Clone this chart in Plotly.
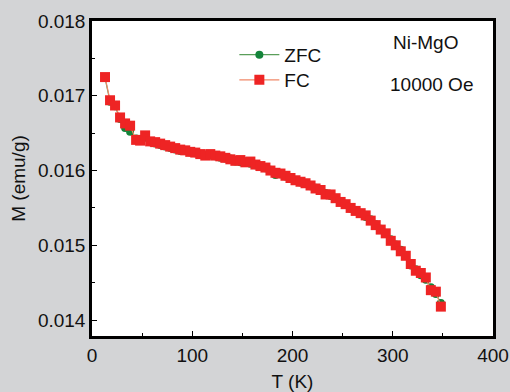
import plotly.graph_objects as go

T_fc = [13, 18, 23, 28, 33, 38, 44, 48, 53, 58, 63, 68, 73, 78, 83, 88, 93, 98, 103, 108,
        113, 118, 123, 128, 133, 138, 143, 148, 153, 158, 163, 168, 173, 178, 183, 188, 193,
        198, 203, 208, 213, 218, 223, 228, 233, 238, 243, 248, 253, 258, 263, 268, 273, 278,
        283, 288, 293, 298, 303, 308, 313, 318, 323, 328, 333, 338, 343, 348]
M_fc = [0.01725, 0.01694, 0.01687, 0.01671, 0.01663, 0.01660, 0.01641, 0.01640, 0.01647, 0.01639,
        0.01638, 0.01636, 0.01634, 0.01632, 0.01630, 0.01628, 0.01627, 0.01625, 0.01624, 0.01622,
        0.01620, 0.01622, 0.01620, 0.01619, 0.01617, 0.01615, 0.01613, 0.01614, 0.01611, 0.01612,
        0.01608, 0.01606, 0.01604, 0.01600, 0.01597, 0.01596, 0.01593, 0.01590, 0.01587, 0.01585,
        0.01583, 0.01580, 0.01576, 0.01574, 0.01568, 0.01568, 0.01563, 0.01558, 0.01555, 0.01550,
        0.01546, 0.01543, 0.01540, 0.01533, 0.01527, 0.01521, 0.01516, 0.01506, 0.01500, 0.01492,
        0.01486, 0.01475, 0.01466, 0.01463, 0.01457, 0.01440, 0.01438, 0.01418]

T_zfc = list(T_fc)
M_zfc = [0.01724, 0.01692, 0.01686, 0.01669, 0.01657, 0.01652, 0.01643, 0.01641, 0.01644, 0.01638,
         0.01636, 0.01634, 0.01632, 0.01630, 0.01628, 0.01626, 0.01626, 0.01624, 0.01623, 0.01621,
         0.01621, 0.01620, 0.01619, 0.01617, 0.01616, 0.01616, 0.01612, 0.01611, 0.01612, 0.01609,
         0.01607, 0.01606, 0.01603, 0.01601, 0.01594, 0.01595, 0.01592, 0.01589, 0.01586, 0.01584,
         0.01582, 0.01579, 0.01577, 0.01575, 0.01570, 0.01566, 0.01562, 0.01559, 0.01554, 0.01549,
         0.01547, 0.01542, 0.01538, 0.01535, 0.01528, 0.01522, 0.01515, 0.01508, 0.01501, 0.01494,
         0.01487, 0.01473, 0.01468, 0.01460, 0.01454, 0.01444, 0.01435, 0.01423]

x_ticks = [0, 100, 200, 300, 400]
y_ticks = [0.014, 0.015, 0.016, 0.017, 0.018]

FONT = "Liberation Sans, Arial, sans-serif"
FS = 19

fig = go.Figure()
fig.add_trace(go.Scatter(
    x=T_zfc, y=M_zfc, mode="lines+markers", name="ZFC", legend="legend",
    line=dict(color="#5a9e5a", width=1.2),
    marker=dict(symbol="circle", size=8, color="#14843a"),
))
fig.add_trace(go.Scatter(
    x=T_fc, y=M_fc, mode="lines+markers", name="FC", legend="legend2",
    line=dict(color="#f08868", width=1.2),
    marker=dict(symbol="square", size=10, color="#ee2424"),
))

axis_common = dict(
    showgrid=False, zeroline=False, showline=True, linecolor="black", linewidth=2.5,
    mirror=True, ticks="inside", ticklen=5, tickwidth=1, tickcolor="black",
    tickfont=dict(family=FONT, size=FS, color="#111"),
)
fig.update_xaxes(
    range=[0, 400], tickvals=x_ticks, ticktext=[str(v) for v in x_ticks],
    minor=dict(ticks="inside", ticklen=3, tickwidth=1, tickcolor="black", dtick=50, tick0=0),
    title=dict(text="T (K)", font=dict(family=FONT, size=FS, color="#111"), standoff=14),
    automargin=False,
    **axis_common,
)
fig.update_yaxes(
    range=[0.013787, 0.018], tickvals=y_ticks, ticktext=["%.3f" % v for v in y_ticks],
    minor=dict(ticks="inside", ticklen=3, tickwidth=1, tickcolor="black", dtick=0.0005, tick0=0.014),
    title=dict(text="M (emu/g)", font=dict(family=FONT, size=FS, color="#111"), standoff=8),
    **axis_common,
)

fig.add_annotation(x=333, y=0.017707, xref="x", yref="y", text="Ni-MgO", showarrow=False,
                   font=dict(family=FONT, size=FS, color="#111"))
fig.add_annotation(x=339, y=0.017147, xref="x", yref="y", text="10000 Oe", showarrow=False,
                   font=dict(family=FONT, size=FS, color="#111"))

legend_common = dict(xanchor="left", yanchor="top", bgcolor="rgba(0,0,0,0)",
                     font=dict(family=FONT, size=FS, color="#111"), itemwidth=40)

fig.update_layout(
    width=510, height=392,
    margin=dict(l=92, r=17, t=21, b=56),
    paper_bgcolor="#d3d4d6", plot_bgcolor="white",
    showlegend=True,
    legend=dict(x=0.355, y=0.953, **legend_common),
    legend2=dict(x=0.355, y=0.873, **legend_common),
)

fig.write_html("out.html")
